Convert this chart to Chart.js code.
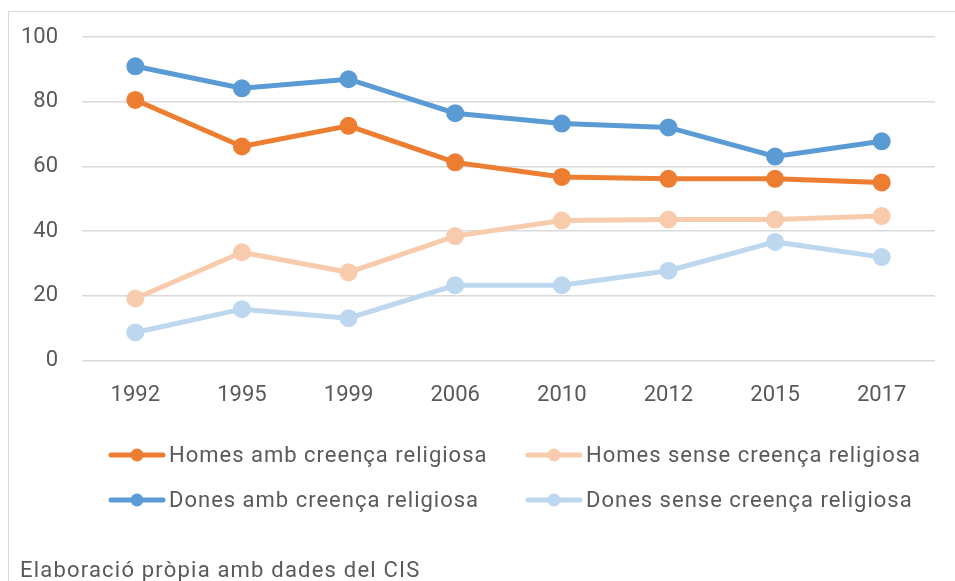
<!DOCTYPE html>
<html>
<head>
<meta charset="utf-8">
<script src="https://cdn.jsdelivr.net/npm/chart.js@4/dist/chart.umd.min.js"></script>
<style>
  html, body { margin: 0; padding: 0; background: #fff; }
  #wrap { position: relative; width: 955px; height: 581px; overflow: hidden; }
  #frame { position: absolute; left: 8px; top: 11px; width: 1000px; height: 700px; border: 1.5px solid #d9d9d9; box-sizing: border-box; pointer-events: none; }
  canvas { position: absolute; left: 0; top: 0; }
</style>
</head>
<body>
<div id="wrap">
  <div id="frame"></div>
  <canvas id="c" width="955" height="581"></canvas>
</div>
<script>
const years = ["1992", "1995", "1999", "2006", "2010", "2012", "2015", "2017"];
const homesAmb = [80.6, 66.2, 72.6, 61.3, 56.8, 56.2, 56.2, 55.1];
const homesSense = [19.2, 33.5, 27.3, 38.5, 43.3, 43.6, 43.6, 44.7];
const donesAmb = [91.0, 84.2, 87.0, 76.5, 73.3, 72.1, 63.1, 67.8];
const donesSense = [8.7, 15.9, 13.1, 23.3, 23.3, 27.8, 36.7, 32.0];
const seriesNames = ["Homes amb creença religiosa", "Homes sense creença religiosa", "Dones amb creença religiosa", "Dones sense creença religiosa"];
const sourceNote = "Elaboració pròpia amb dades del CIS";
const yTicks = [0, 20, 40, 60, 80, 100];

const FONT = "Roboto, 'DejaVu Sans', sans-serif";
const TXT = "#595959";

function ds(label, data, color) {
  return {
    label, data,
    borderColor: color, backgroundColor: color,
    pointBackgroundColor: color, pointBorderColor: color,
    borderWidth: 5, pointRadius: 6.5, pointHoverRadius: 6.5,
    tension: 0, fill: false
  };
}

const customLegend = {
  id: 'customLegend',
  afterDraw(chart) {
    const ctx = chart.ctx;
    const cols = [109, 526];
    const rows = [455, 500];
    const layout = [[0, 0, 0], [1, 1, 0], [2, 0, 1], [3, 1, 1]];
    ctx.save();
    layout.forEach(([i, c, r]) => {
      const d = chart.data.datasets[i];
      const x = cols[c], y = rows[r];
      ctx.strokeStyle = d.borderColor;
      ctx.lineWidth = 5;
      ctx.lineCap = 'round';
      ctx.beginPath();
      ctx.moveTo(x + 2, y);
      ctx.lineTo(x + 54, y);
      ctx.stroke();
      ctx.fillStyle = d.borderColor;
      ctx.beginPath();
      ctx.arc(x + 28, y, 6.5, 0, Math.PI * 2);
      ctx.fill();
      ctx.fillStyle = TXT;
      ctx.font = "22px " + FONT;
      ctx.letterSpacing = "1px";
      ctx.textBaseline = 'middle';
      ctx.textAlign = 'left';
      ctx.fillText(d.label, x + 60, y + 1);
    });
    ctx.font = "22px " + FONT;
    ctx.letterSpacing = "1.2px";
    ctx.textBaseline = 'alphabetic';
    ctx.fillText(sourceNote, 20, 577);
    ctx.restore();
  }
};

new Chart(document.getElementById('c'), {
  type: 'line',
  data: {
    labels: years,
    datasets: [
      ds(seriesNames[0], homesAmb, '#ED7D31'),
      ds(seriesNames[1], homesSense, '#F8CBAD'),
      ds(seriesNames[2], donesAmb, '#5B9BD5'),
      ds(seriesNames[3], donesSense, '#BDD7EE')
    ]
  },
  options: {
    responsive: false,
    animation: false,
    layout: { padding: { left: 0, right: 20, top: 36, bottom: 150 } },
    plugins: {
      legend: { display: false },
      tooltip: { enabled: false }
    },
    scales: {
      x: {
        offset: true,
        grid: { display: false, drawTicks: false },
        border: { display: false },
        ticks: { color: TXT, font: { family: FONT, size: 22 }, padding: 22 }
      },
      y: {
        min: 0, max: 100,
        afterBuildTicks(axis) { axis.ticks = yTicks.map(v => ({ value: v })); },
        afterFit(axis) { axis.width = 82; },
        grid: { color: '#d9d9d9', lineWidth: 1.5, drawTicks: false },
        border: { display: false },
        ticks: { color: TXT, font: { family: FONT, size: 22 }, padding: 24 }
      }
    }
  },
  plugins: [customLegend]
});
</script>
</body>
</html>
